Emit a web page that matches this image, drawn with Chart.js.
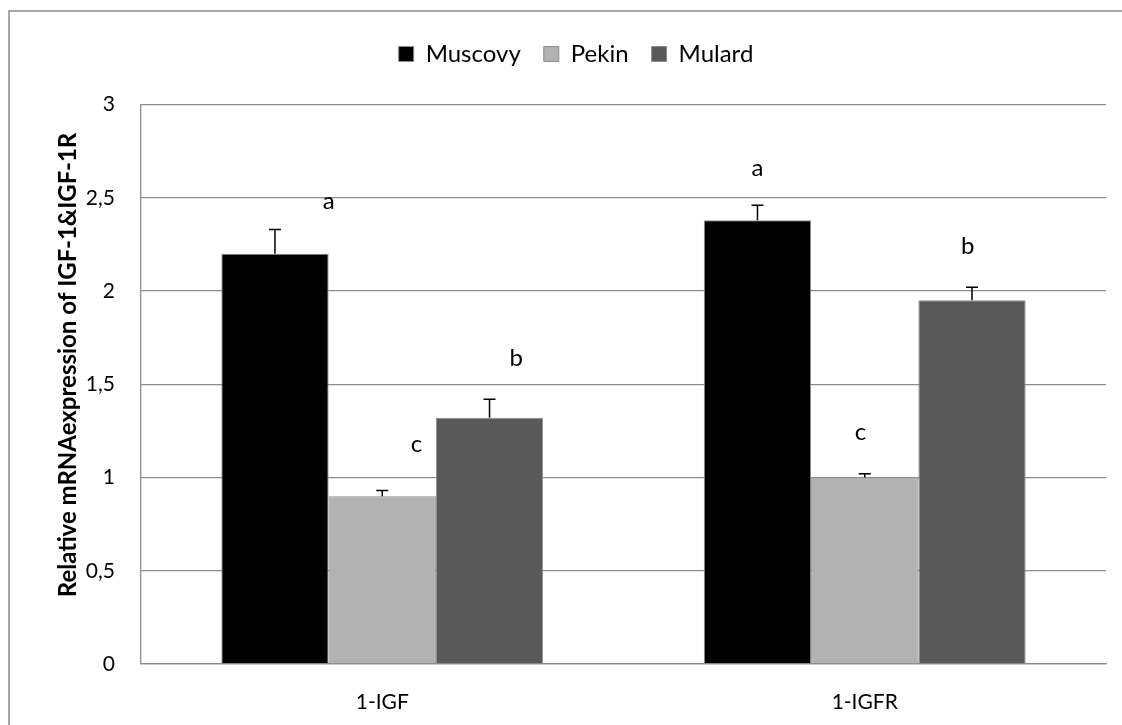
<!DOCTYPE html>
<html>
<head>
<meta charset="utf-8">
<script src="https://cdn.jsdelivr.net/npm/chart.js@4.4.1/dist/chart.umd.min.js"></script>
<style>
  html,body{margin:0;padding:0;background:#fff;overflow:hidden}
  #wrap{width:1122px;height:725px;position:relative}
</style>
</head>
<body>
<div id="wrap"><canvas id="c" width="1122" height="725"></canvas></div>
<script>
// data
const categories=['1-IGF','1-IGFR'];
const seriesNames=['Muscovy','Pekin','Mulard'];
const muscovy=[2.20,2.38];
const pekin=[0.90,1.00];
const mulard=[1.32,1.95];
const muscovyErr=[0.13,0.08];
const pekinErr=[0.03,0.02];
const mulardErr=[0.10,0.07];
// significance letters and the value they sit at
const muscovyLetters=['a','a'];
const pekinLetters=['c','c'];
const mulardLetters=['b','b'];
const muscovyLetterY=[2.48,2.66];
const pekinLetterY=[1.18,1.24];
const mulardLetterY=[1.64,2.24];
const yTickLabels=['0','0,5','1','1,5','2','2,5','3'];
const yTitle='Relative mRNAexpression of IGF-1&IGF-1R';

const FONT='Lato, "Open Sans", sans-serif';
const colors=['#000000','#b2b2b2','#595959'];
const errs=[muscovyErr,pekinErr,mulardErr];
const letters=[muscovyLetters,pekinLetters,mulardLetters];
const letterY=[muscovyLetterY,pekinLetterY,mulardLetterY];
// horizontal nudge of each letter, in bar widths (per dataset, per category)
const letterDx=[[0.5,0],[0.32,-0.04],[0.25,-0.04]];
const LEGEND_H=85.5;

// outer frame (only left and top edges fall inside the picture), legend tweaks, y title
const framePlugin={
  id:'frame',
  afterInit(chart){
    // fixed legend height so the plot starts where the reference does
    const lg=chart.legend;
    if(lg){const f=lg.fit;lg.fit=function(){f.call(this);this.height=LEGEND_H}}
  },
  afterLayout(chart){
    const lg=chart.legend;
    if(lg){lg.left+=18;lg.right+=18}
  },
  beforeDraw(chart){
    const ctx=chart.ctx;
    ctx.save();
    ctx.strokeStyle='#8c8c8c';ctx.lineWidth=1.5;
    ctx.beginPath();
    ctx.moveTo(9,725);ctx.lineTo(9,11);ctx.lineTo(1122,11);
    ctx.stroke();
    ctx.restore();
  },
  afterDraw(chart){
    const ctx=chart.ctx;
    ctx.save();
    ctx.translate(68,365);ctx.rotate(-Math.PI/2);
    ctx.fillStyle='#000';ctx.font='bold 24px '+FONT;
    ctx.textAlign='center';ctx.textBaseline='middle';
    ctx.fillText(yTitle,0,0);
    ctx.restore();
  }
};

const errPlugin={
  id:'errbars',
  afterDatasetsDraw(chart){
    const ctx=chart.ctx, y=chart.scales.y;
    ctx.save();
    chart.data.datasets.forEach(function(ds,i){
      const meta=chart.getDatasetMeta(i);
      meta.data.forEach(function(bar,j){
        const top=y.getPixelForValue(ds.data[j]+errs[i][j]);
        const base=y.getPixelForValue(ds.data[j]);
        ctx.strokeStyle='#000';ctx.lineWidth=1.5;
        ctx.beginPath();
        ctx.moveTo(bar.x,base);ctx.lineTo(bar.x,top);
        ctx.moveTo(bar.x-6,top);ctx.lineTo(bar.x+6,top);
        ctx.stroke();
        // letter
        ctx.fillStyle='#000';
        ctx.font='24px '+FONT;
        ctx.textAlign='center';ctx.textBaseline='middle';
        const lx=bar.x+letterDx[i][j]*bar.width;
        ctx.fillText(letters[i][j],lx,y.getPixelForValue(letterY[i][j]));
      });
    });
    ctx.restore();
  }
};

new Chart(document.getElementById('c'),{
  type:'bar',
  data:{
    labels:categories,
    datasets:seriesNames.map(function(n,i){
      return {label:n,data:[muscovy,pekin,mulard][i],backgroundColor:colors[i],borderColor:'#8c8c8c',borderWidth:1,
        categoryPercentage:0.667,barPercentage:1};
    })
  },
  options:{
    responsive:false,animation:false,
    layout:{padding:{left:10,right:16,top:19,bottom:0}},
    plugins:{
      legend:{position:'top',labels:{boxWidth:15,boxHeight:15,padding:23,color:'#000',font:{family:FONT,size:24}}},
      tooltip:{enabled:false}
    },
    scales:{
      x:{
        grid:{display:false,drawTicks:false},
        border:{display:true,color:'#8c8c8c',width:1.3},
        ticks:{color:'#000',padding:26,font:{family:FONT,size:21}},
        afterFit:function(s){s.height=61}
      },
      y:{
        min:0,max:3,
        grid:{color:'#8c8c8c',lineWidth:1.3,drawTicks:false},
        border:{display:true,color:'#8c8c8c',width:1.3},
        ticks:{stepSize:0.5,color:'#000',padding:26,font:{family:FONT,size:21},
          callback:function(v,i){return yTickLabels[i]}},
        afterFit:function(s){s.width=131}
      }
    }
  },
  plugins:[framePlugin,errPlugin]
});
</script>
</body>
</html>
